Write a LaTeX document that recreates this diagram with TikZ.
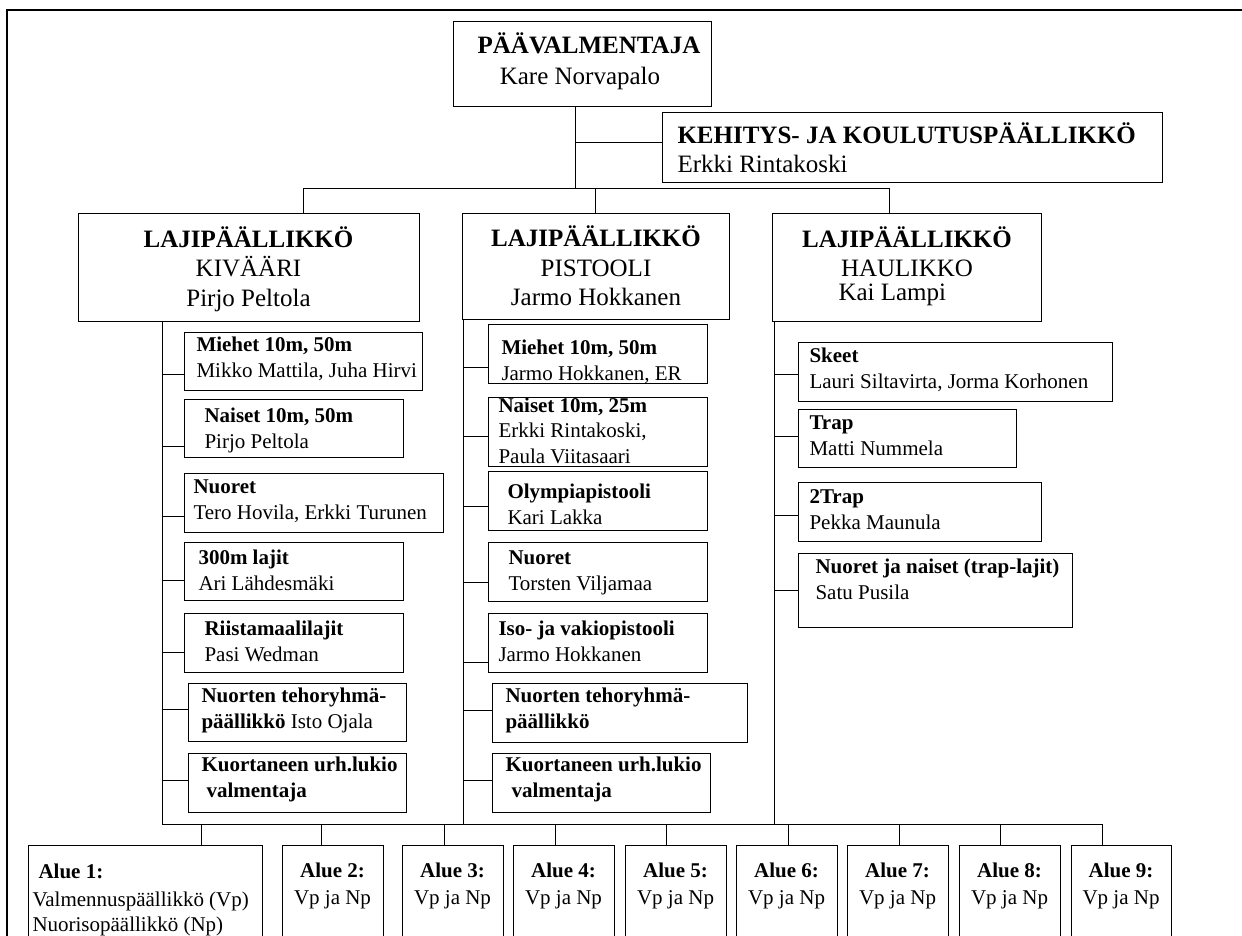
\documentclass[tikz,border=0pt]{standalone}
\usepackage{fontspec}
\setmainfont{Liberation Serif}
\newcommand\bigf{\fontsize{25}{29.5}\selectfont}
\newcommand\smf{\fontsize{21}{25.5}\selectfont}
\newcommand\mybx[5]{\node[box, minimum width={#4-#2}, minimum height={#5-#3}] (#1) at (#2,#3) {};}
% #3 = baseline of the LAST line
\newcommand\mytx[4]{\node[txt] (#1) at (#2,#3) {#4};}
\newcommand\myconn[3]{\coordinate (#1j) at (#2,#3); \draw (#1j) -- (#1j -| #1.west);}
\begin{document}
\begin{tikzpicture}[x=1pt,y=-1pt, line width=1pt,
  box/.style={draw, rectangle, inner sep=0pt, anchor=north west},
  txt/.style={inner sep=0pt, font=\smf, align=left, anchor=base west},
  btxt/.style={inner sep=0pt, font=\bigf, align=center, anchor=base},
  ]
\clip (0,0) rectangle (1242,935);
% frame
\draw[line width=1.2pt] (7,940) -- (7,10) -- (1250,10);
% top
\mybx{top}{453}{21}{711}{106}
\node[btxt] (topt1) at (589,53) {\textbf{PÄÄVALMENTAJA}};
\node[btxt] (topt2) at (580,84) {Kare Norvapalo};
\mybx{keh}{662}{112}{1162}{182}
\node[btxt, anchor=base west, align=left] (keht) at (677,172) {\textbf{KEHITYS- JA KOULUTUSPÄÄLLIKKÖ}\\[-0.5pt]Erkki Rintakoski};
% level 2
\mybx{kiv}{78}{213}{419}{321}
\node[btxt] (kivt) at (248.5,306) {\textbf{LAJIPÄÄLLIKKÖ}\\KIVÄÄRI\\Pirjo Peltola};
\mybx{pis}{462}{213}{729}{319}
\node[btxt] (pist) at (596,305.5) {\textbf{LAJIPÄÄLLIKKÖ}\\PISTOOLI\\Jarmo Hokkanen};
\mybx{hau}{772}{213}{1041}{321}
\node[btxt] (haut) at (907,276.5) {\textbf{LAJIPÄÄLLIKKÖ}\\HAULIKKO};
\node[btxt, anchor=base west] (haut2) at (838,300) {Kai Lampi};
% top connectors
\coordinate (v0) at (575,188);
\draw (v0 |- top.south) -- (v0);
\coordinate (kj) at (575,142);
\draw (kj) -- (kj -| keh.west);
\coordinate (b1) at (303,188);
\coordinate (b2) at (595,188);
\coordinate (b3) at (889,188);
\draw (b1) -- (b3);
\draw (b1) -- (b1 |- kiv.north);
\draw (b2) -- (b2 |- pis.north);
\draw (b3) -- (b3 |- hau.north);
% left column
\mybx{k1}{184}{332}{422}{390}
\mytx{k1t}{196}{377}{\textbf{Miehet 10m, 50m}\\Mikko Mattila, Juha Hirvi}
\mybx{k2}{184}{399}{403}{457}
\mytx{k2t}{204}{448}{\textbf{Naiset 10m, 50m}\\Pirjo Peltola}
\mybx{k3}{184}{473}{443}{532}
\mytx{k3t}{193}{519}{\textbf{Nuoret}\\Tero Hovila, Erkki Turunen}
\mybx{k4}{184}{542}{403}{600}
\mytx{k4t}{198}{590}{\textbf{300m lajit}\\Ari Lähdesmäki}
\mybx{k5}{184}{613}{403}{672}
\mytx{k5t}{204}{661}{\textbf{Riistamaalilajit}\\Pasi Wedman}
\mybx{k6}{188}{683}{406}{741}
\mytx{k6t}{201}{728}{\textbf{Nuorten tehoryhmä-}\\\textbf{päällikkö} Isto Ojala}
\mybx{k7}{188}{753}{406}{812}
\mytx{k7t}{201}{797}{\textbf{Kuortaneen urh.lukio}\\\hspace{5pt}\textbf{valmentaja}}
\myconn{k1}{162}{374}
\myconn{k2}{162}{446}
\myconn{k3}{162}{516}
\myconn{k4}{162}{580}
\myconn{k5}{162}{652}
\myconn{k6}{162}{709}
\myconn{k7}{162}{780}
% middle column
\mybx{p1}{488}{324}{707}{383}
\mytx{p1t}{501}{380}{\textbf{Miehet 10m, 50m}\\Jarmo Hokkanen, ER}
\mybx{p2}{488}{397}{707}{466}
\mytx{p2t}{498}{463}{\textbf{Naiset 10m, 25m}\\Erkki Rintakoski,\\Paula Viitasaari}
\mybx{p3}{488}{471}{707}{530}
\mytx{p3t}{507}{524}{\textbf{Olympiapistooli}\\Kari Lakka}
\mybx{p4}{488}{542}{707}{601}
\mytx{p4t}{508}{590}{\textbf{Nuoret}\\Torsten Viljamaa}
\mybx{p5}{488}{613}{707}{672}
\mytx{p5t}{498}{661}{\textbf{Iso- ja vakiopistooli}\\Jarmo Hokkanen}
\mybx{p6}{492}{683}{747}{742}
\mytx{p6t}{505}{728}{\textbf{Nuorten tehoryhmä-}\\\textbf{päällikkö}}
\mybx{p7}{492}{753}{710}{812}
\mytx{p7t}{505}{797}{\textbf{Kuortaneen urh.lukio}\\\hspace{6pt}\textbf{valmentaja}}
\myconn{p1}{463}{367}
\myconn{p2}{463}{436}
\myconn{p3}{463}{506}
\myconn{p4}{463}{582}
\myconn{p5}{463}{662}
\myconn{p6}{463}{710}
\myconn{p7}{463}{780}
% right column
\mybx{h1}{798}{342}{1112}{401}
\mytx{h1t}{809}{388}{\textbf{Skeet}\\Lauri Siltavirta, Jorma Korhonen}
\mybx{h2}{798}{409}{1016}{467}
\mytx{h2t}{809}{455}{\textbf{Trap}\\Matti Nummela}
\mybx{h3}{798}{482}{1041}{541}
\mytx{h3t}{809}{529}{\textbf{2Trap}\\Pekka Maunula}
\mybx{h4}{798}{553}{1072}{627}
\mytx{h4t}{815}{599}{\textbf{Nuoret ja naiset (trap-lajit)}\\Satu Pusila}
\myconn{h1}{774}{374}
\myconn{h2}{774}{436}
\myconn{h3}{774}{515}
\myconn{h4}{774}{590}
% trunks
\coordinate (tk) at (162,824);
\coordinate (tp) at (463,824);
\coordinate (th) at (774,824);
\draw (tk |- kiv.south) -- (tk);
\draw (tp |- pis.south) -- (tp);
\draw (th |- hau.south) -- (th);
% bottom row
\mybx{a1}{28}{845}{262}{945}
\mytx{a1t}{38}{878}{\textbf{Alue 1:}}
\node[txt, font=\fontsize{21}{25}\selectfont] (a1t2) at (32,931) {Valmennuspäällikkö (Vp)\\Nuorisopäällikkö (Np)};
\mybx{a2}{282}{845}{383}{945}
\mybx{a3}{402}{845}{503}{945}
\mybx{a4}{513}{845}{614}{945}
\mybx{a5}{625}{845}{726}{945}
\mybx{a6}{736}{845}{837}{945}
\mybx{a7}{847}{845}{948}{945}
\mybx{a8}{959}{845}{1060}{945}
\mybx{a9}{1071}{845}{1171}{945}
\foreach \n/\cx in {2/332.5,3/452.5,4/563.5,5/675.5,6/786.5,7/897.5,8/1009.5,9/1121}{
  \node[txt, anchor=base, align=center, font=\fontsize{21}{27}\selectfont] (a\n t) at (\cx,904) {\textbf{Alue \n:}\\Vp ja Np};
}
\coordinate (d1) at (201,824);
\coordinate (d2) at (321,824);
\coordinate (d3) at (444,824);
\coordinate (d4) at (555,824);
\coordinate (d5) at (666,824);
\coordinate (d6) at (788,824);
\coordinate (d7) at (899,824);
\coordinate (d8) at (1000,824);
\coordinate (d9) at (1102,824);
\draw (tk) -- (d9);
\foreach \n in {1,...,9}{
  \draw (d\n) -- (d\n |- a\n.north);
}
\end{tikzpicture}
\end{document}
